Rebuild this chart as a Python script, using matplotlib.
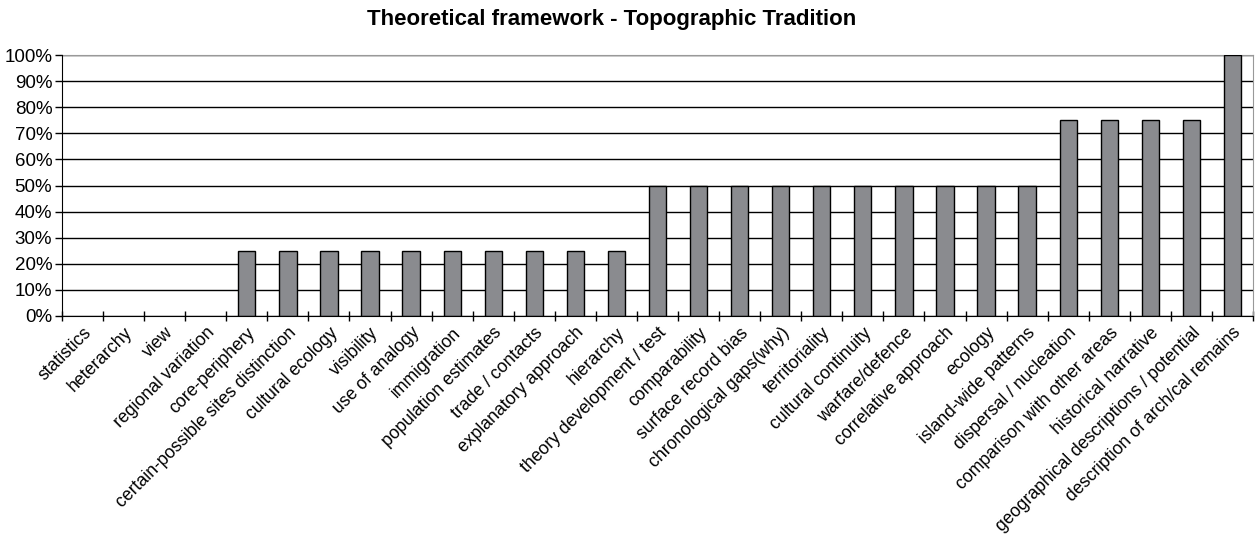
import matplotlib.pyplot as plt
from matplotlib.ticker import FixedLocator, PercentFormatter

plt.rcParams['font.family'] = ['Liberation Sans', 'DejaVu Sans']

categories = [
    "statistics", "heterarchy", "view", "regional variation", "core-periphery",
    "certain-possible sites distinction", "cultural ecology", "visibility",
    "use of analogy", "immigration", "population estimates", "trade / contacts",
    "explanatory approach", "hierarchy", "theory development / test",
    "comparability", "surface record bias", "chronological gaps(why)",
    "territoriality", "cultural continuity", "warfare/defence",
    "correlative approach", "ecology", "island-wide patterns",
    "dispersal / nucleation", "comparison with other areas",
    "historical narrative", "geographical descriptions / potential",
    "description of arch/cal remains",
]
values = [0, 0, 0, 0, 25, 25, 25, 25, 25, 25, 25, 25, 25, 25,
          50, 50, 50, 50, 50, 50, 50, 50, 50, 50, 75, 75, 75, 75, 100]

fig = plt.figure(figsize=(12.58, 5.36), dpi=100)
ax = fig.add_axes([62 / 1258, 1 - 316 / 536, (1253 - 62) / 1258, (316 - 55) / 536])

x = list(range(len(categories)))
# zero bars have no visible outline in the original
edges = ["black" if v > 0 else "none" for v in values]
ax.bar(x, values, width=0.42, color="#8a8b8f", edgecolor=edges, linewidth=1.0, zorder=3)

ax.set_xlim(-0.5, len(categories) - 0.5)
ax.set_ylim(0, 100)
ax.set_yticks(range(0, 101, 10))
ax.yaxis.set_major_formatter(PercentFormatter(decimals=0))
ax.yaxis.grid(True, color="black", linewidth=1.0, zorder=0)

ax.set_xticks(x)
ax.set_xticklabels(categories, rotation=45, ha="right", rotation_mode="anchor", fontsize=12.7)
ax.tick_params(axis="x", length=0, pad=6)
ax.xaxis.set_minor_locator(FixedLocator([i + 0.5 for i in range(-1, len(categories))]))
ax.tick_params(axis="x", which="minor", length=7, width=1, direction="inout")
ax.tick_params(axis="y", labelsize=13.5, length=5, width=1, direction="out", pad=2)

for side in ["top", "right"]:
    ax.spines[side].set_color("#999999")
ax.spines["left"].set_color("black")
ax.spines["bottom"].set_color("black")
ax.spines["left"].set_zorder(4)
ax.spines["bottom"].set_zorder(4)

fig.suptitle("Theoretical framework - Topographic Tradition", fontsize=16,
             fontweight="bold", x=612 / 1258, y=1 - 19 / 536, va="center")

fig.savefig("out.png", dpi=100)
